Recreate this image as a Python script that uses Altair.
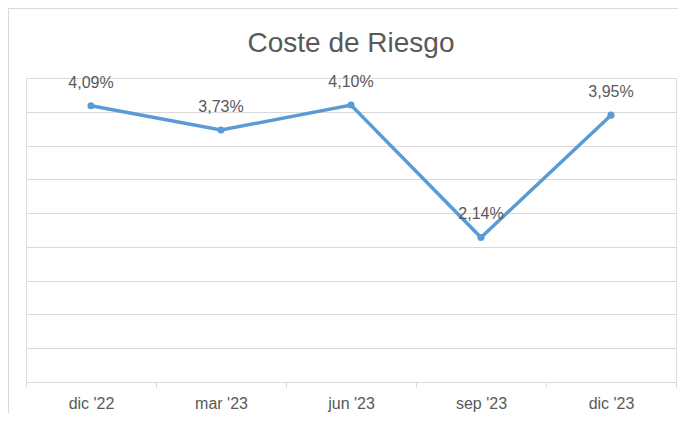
import altair as alt
import pandas as pd

periods = ["dic '22", "mar '23", "jun '23", "sep '23", "dic '23"]
values = [4.09, 3.73, 4.10, 2.14, 3.95]
labels = ["4,09%", "3,73%", "4,10%", "2,14%", "3,95%"]
y_ticks = [0, 0.5, 1, 1.5, 2, 2.5, 3, 3.5, 4, 4.5]
title_text = "Coste de Riesgo"

df = pd.DataFrame({"periodo": periods, "valor": values, "etiqueta": labels})

W, H = 650, 304
GRAY = "#595959"
BLUE = "#5B9BD5"
GRID = "#D9D9D9"
FONT = "Liberation Sans"

x_enc = alt.X(
    "periodo:N",
    sort=periods,
    scale=alt.Scale(type="band", paddingInner=0, paddingOuter=0),
    axis=alt.Axis(
        title=None,
        labelAngle=0,
        tickBand="extent",
        tickSize=5,
        tickColor=GRID,
        domainColor=GRID,
        labelColor=GRAY,
        labelFont=FONT,
        labelFontSize=16,
        labelPadding=8,
        grid=False,
    ),
)
y_enc = alt.Y(
    "valor:Q",
    scale=alt.Scale(domain=[0, 4.5], nice=False, zero=True),
    axis=alt.Axis(
        title=None,
        values=y_ticks,
        labels=False,
        ticks=False,
        domain=False,
        grid=True,
        gridColor=GRID,
        gridWidth=1,
    ),
)

base = alt.Chart(df)

border = base.mark_rect(fillOpacity=0, stroke=GRID, strokeWidth=1).encode(
    x=alt.value(-17.5), x2=alt.value(W + 40), y=alt.value(-69.5), y2=alt.value(H + 60)
)

title = alt.Chart(pd.DataFrame({"t": [title_text]})).mark_text(
    font=FONT, fontSize=28, color=GRAY, baseline="alphabetic", align="center"
).encode(x=alt.value(W / 2), y=alt.value(-26), text="t:N")

line = base.mark_line(color=BLUE, strokeWidth=3.5).encode(x=x_enc, y=y_enc)
pts = base.mark_point(filled=True, color=BLUE, size=50, opacity=1).encode(x=x_enc, y=y_enc)
txt = base.mark_text(
    font=FONT, fontSize=16, color=GRAY, baseline="alphabetic", dy=-18
).encode(x=x_enc, y=y_enc, text="etiqueta:N")

chart = (
    alt.layer(border, line, pts, txt, title)
    .properties(
        width=W,
        height=H,
        autosize=alt.AutoSizeParams(type="none"),
        padding={"left": 18, "top": 70, "right": 2, "bottom": 31},
    )
    .configure_view(stroke=None)
    .configure(background="white")
)

chart.save("out.html", embed_options={"renderer": "svg", "actions": False})
